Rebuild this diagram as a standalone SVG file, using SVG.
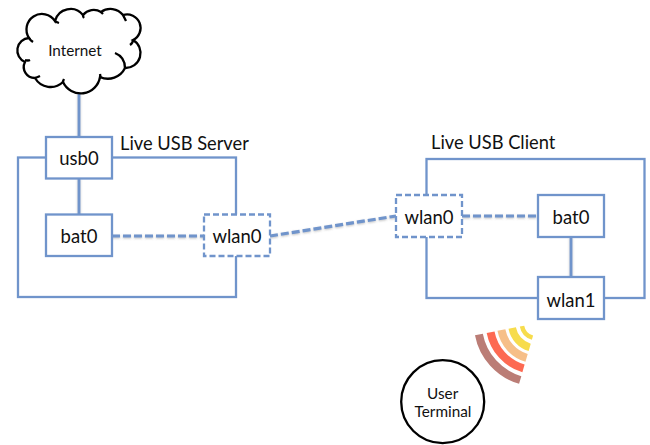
<svg xmlns="http://www.w3.org/2000/svg" width="650" height="445" viewBox="0 0 650 445">
<defs>
<style>
text{font-family:"Lato","Open Sans",sans-serif;fill:#111;text-anchor:middle}
.n{font-size:18.500px}.s{font-size:15.300px}.h{font-size:18.300px;text-anchor:start}
.box{fill:#fff;stroke:#7094cb;stroke-width:2.300}
.dbox{fill:#fff;stroke:#7094cb;stroke-width:2.300;stroke-dasharray:6 3}
.frame{fill:none;stroke:#7094cb;stroke-width:2.300}
.c{fill:none;stroke:#7094cb;stroke-width:2.800;filter:url(#sh)}
.d{stroke-dasharray:8 3;stroke-width:3.200}
.blk{fill:#fff;stroke:#000;stroke-width:2.300}
.w{fill:none;stroke-linecap:butt}
</style>
<filter id="sh" x="0" y="0" width="650" height="445" filterUnits="userSpaceOnUse"><feDropShadow dx="0" dy="1" stdDeviation="1" flood-color="#666" flood-opacity="0.4"/></filter>
</defs>
<rect width="650" height="445" fill="#fff"/>
<g id="frames">
<rect class="frame" x="18" y="157.500" width="218" height="139.500"/>
<rect class="frame" x="426.500" y="159" width="218" height="139"/>
</g>
<g id="connectors">
<path class="c" d="M79 93V137"/>
<path class="c" d="M79 178V214.500"/>
<path class="c d" d="M112 236H204"/>
<path class="c d" d="M270 236L396 216"/>
<path class="c d" d="M462 216H538"/>
<path class="c" d="M571 237V277"/>
</g>
<g id="internet">
<path class="blk" d="M25 62A12.500 12.500 0 0 1 29 38A15 15 0 0 1 55 21A16 16 0 0 1 83 15A14 14 0 0 1 101 12A16 16 0 0 1 123 15A13.500 13.500 0 0 1 133 40A15 15 0 0 1 125 68A19 19 0 0 1 100 77A19.500 19.500 0 0 1 63 82A18 18 0 0 1 35 78A11 11 0 0 1 25 62Z"/>
<path fill="none" stroke="#000" stroke-width="2.300" d="M25 60Q28 61 30 60M29 38Q30 40 33 42M55 21Q56 22 59 23M83 15Q83 17 84 18M101 12Q102 13 103 14M123 15Q125 19 126 21M133 40Q133 43 130 45M125 68Q125 57 115 53M100 77Q101 79 100 74M63 82Q63 81 64 79M35 78Q38 77 40 76"/>
<text class="s" x="75" y="56">Internet</text>
</g>
<g id="usb0"><rect class="box" x="46" y="137" width="66" height="41.500"/><text class="n" x="79" y="165">usb0</text></g>
<g id="bat0-server"><rect class="box" x="46" y="214.500" width="66" height="41.500"/><text class="n" x="79" y="243">bat0</text></g>
<g id="wlan0-server"><rect class="dbox" x="204" y="214.500" width="66" height="41.500"/><text class="n" x="237" y="243">wlan0</text></g>
<g id="wlan0-client"><rect class="dbox" x="396" y="195" width="66" height="42"/><text class="n" x="429" y="224">wlan0</text></g>
<g id="bat0-client"><rect class="box" x="538" y="195" width="66" height="42"/><text class="n" x="571" y="224">bat0</text></g>
<g id="wlan1"><rect class="box" x="538" y="277" width="66" height="42"/><text class="n" x="571" y="307">wlan1</text></g>
<g id="labels">
<text class="h" x="120" y="150">Live USB Server</text>
<text class="h" x="431" y="149">Live USB Client</text>
</g>
<g id="signal" class="w">
<path stroke="#bb7d76" stroke-width="8" d="M478.900 334.500A59 59 0 0 0 520.200 380"/>
<path stroke="#fd6a52" stroke-width="8" d="M490.600 332.200A47 47 0 0 0 523.500 368.400"/>
<path stroke="#f6bf88" stroke-width="8" d="M501.400 330.100A36 36 0 0 0 526.600 357.900"/>
<path stroke="#f7dc4c" stroke-width="7.500" d="M512.200 328A25 25 0 0 0 529.700 347.300"/>
<path stroke="#f7dc4c" stroke-width="4.500" d="M522 326.100A15 15 0 0 0 532.500 337.700"/>
</g>
<g id="user-terminal">
<circle class="blk" cx="442.700" cy="401.700" r="41.500"/>
<text class="s" x="442.700" y="399">User</text>
<text class="s" x="443" y="417">Terminal</text>
</g>
</svg>
